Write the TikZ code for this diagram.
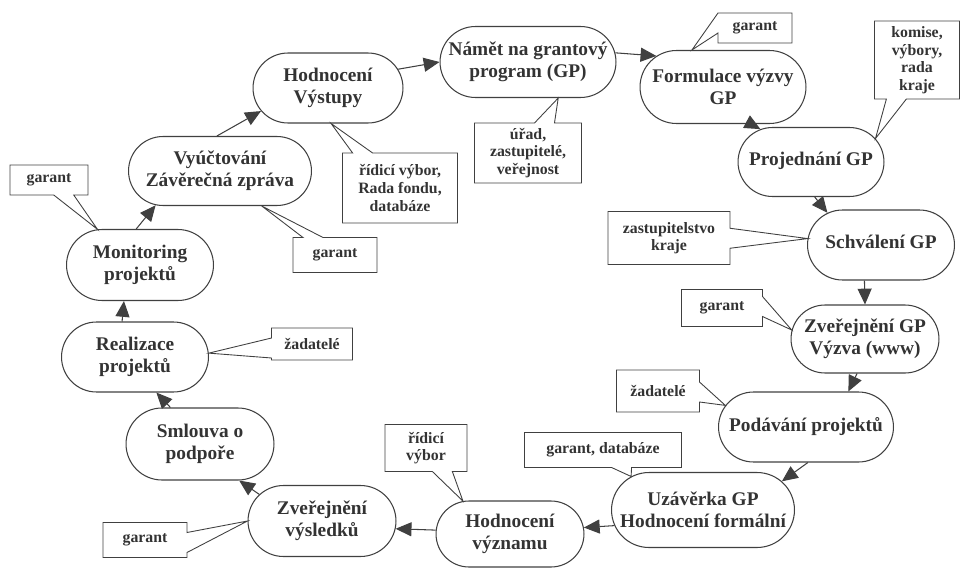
\documentclass[tikz,border=0pt]{standalone}
\usepackage{fontspec}
\setmainfont{Liberation Serif}
\usetikzlibrary{shapes.misc,shapes.callouts,arrows.meta}

\begin{document}
\begin{tikzpicture}[x=0.02cm,y=-0.02cm]
  \tikzset{stage/.style={draw=black!75, line width=0.6pt, rounded rectangle, align=center, inner sep=2pt,
      text=black!80, font=\bfseries\fontsize{11}{12.5}\selectfont},
    note/.style={draw=black!75, line width=0.5pt, rectangle callout, align=center, inner sep=2pt,
      callout pointer width=0.4cm, text=black!80, font=\bfseries\fontsize{9}{10}\selectfont},
    flow/.style={draw=black!75, line width=0.6pt, -{Triangle[length=9pt,width=8pt]}}}
  \useasboundingbox (0,0) rectangle (960,568);
  % the cycle
  \node[stage, minimum width=3.66cm, minimum height=1.42cm] (namet) at (528,62) {Námět na grantový\\program (GP)};
  \node[stage, minimum width=3.46cm, minimum height=1.46cm] (formul) at (723,87) {Formulace výzvy\\GP};
  \node[stage, minimum width=3.06cm, minimum height=1.38cm] (projed) at (811,162) {\raisebox{4pt}{Projednání GP}};
  \node[stage, minimum width=3.08cm, minimum height=1.4cm] (schval) at (881,245) {\raisebox{4pt}{Schválení GP}};
  \node[stage, minimum width=3.1cm, minimum height=1.36cm] (zverGP) at (865,339) {Zveřejnění GP\\Výzva (www)};
  \node[stage, minimum width=3.64cm, minimum height=1.4cm] (podav) at (806,427) {\raisebox{3pt}{Podávání projektů}};
  \node[stage, minimum width=3.8cm, minimum height=1.5cm] (uzav) at (703,510) {Uzávěrka GP\\Hodnocení formální};
  \node[stage, minimum width=3.1cm, minimum height=1.32cm] (hodvyz) at (510,534) {Hodnocení\\významu};
  \node[stage, minimum width=3.1cm, minimum height=1.42cm] (zvervys) at (322,521) {Zveřejnění\\výsledků};
  \node[stage, minimum width=3.1cm, minimum height=1.44cm] (smlouva) at (200,444) {Smlouva o\\podpoře};
  \node[stage, minimum width=3.08cm, minimum height=1.4cm] (realiz) at (135,357) {Realizace\\projektů};
  \node[stage, minimum width=3.08cm, minimum height=1.42cm] (monit) at (140,265) {Monitoring\\projektů};
  \node[stage, minimum width=3.8cm, minimum height=1.38cm] (vyuct) at (220,171) {Vyúčtování\\Závěrečná zpráva};
  \node[stage, minimum width=3.14cm, minimum height=1.4cm] (hodvys) at (328,88) {Hodnocení\\Výstupy};

  \draw[flow] (hodvys.15) -- (namet.180);
  \draw[flow] (namet.6) -- (formul.155);
  \draw[flow] (formul.-53) -- (projed.147);
  \draw[flow] (projed.-84) -- (schval.149);
  \draw[flow] (schval.-115) -- (zverGP.90);
  \draw[flow] (zverGP.-103) -- (podav.40);
  \draw[flow] (podav.-87) -- (uzav.20);
  \draw[flow] (uzav.190) -- (hodvyz.5);
  \draw[flow] (hodvyz.177) -- (zvervys.-6);
  \draw[flow] (zvervys.157) -- (smlouva.-43);
  \draw[flow] (smlouva.129) -- (realiz.-59);
  \draw[flow] (realiz.110) -- (monit.-114);
  \draw[flow] (monit.96) -- (vyuct.-152);
  \draw[flow] (vyuct.95) -- (hodvys.-161);

  % who takes part
  \node[note, minimum width=1.48cm, minimum height=0.6cm, callout absolute pointer={(formul.130)}] (gar1) at (755,28) {garant};
  \node[note, minimum width=1.7cm, minimum height=1.56cm, callout absolute pointer={(projed.20)}] (komise) at (917,60) {komise,\\výbory,\\rada\\kraje};
  \node[note, minimum width=2.14cm, minimum height=1.2cm, callout absolute pointer={(namet.-50)}] (urad) at (528,153) {úřad,\\zastupitelé,\\veřejnost};
  \node[note, minimum width=2.3cm, minimum height=1.4cm, callout absolute pointer={(hodvys.-85)}] (ridici1) at (400,188) {řídicí výbor,\\Rada fondu,\\databáze};
  \node[note, minimum width=1.68cm, minimum height=0.7cm, callout absolute pointer={(vyuct.-40)}] (gar2) at (335,255) {garant};
  \node[note, minimum width=1.56cm, minimum height=0.6cm, callout absolute pointer={(monit.140)}] (gar3) at (49,180) {garant};
  \node[note, minimum width=2.44cm, minimum height=1.06cm, callout absolute pointer={(schval.175)}] (zastup) at (669,238) {zastupitelstvo\\kraje};
  \node[note, minimum width=1.62cm, minimum height=0.74cm, callout absolute pointer={(zverGP.173)}] (gar4) at (722,308) {garant};
  \node[note, minimum width=1.62cm, minimum height=0.64cm, callout absolute pointer={(realiz.3)}] (zad1) at (312,344) {žadatelé};
  \node[note, minimum width=1.66cm, minimum height=0.84cm, callout absolute pointer={(podav.165)}] (zad2) at (658,391) {žadatelé};
  \node[note, minimum width=3.14cm, minimum height=0.7cm, callout absolute pointer={(uzav.155)}] (gardb) at (603,450) {garant, databáze};
  \node[note, minimum width=1.64cm, minimum height=0.94cm, callout absolute pointer={(hodvyz.145)}] (ridici2) at (426,448) {řídicí\\výbor};
  \node[note, minimum width=1.68cm, minimum height=0.7cm, callout absolute pointer={(zvervys.180)}] (gar5) at (145,540) {garant};
\end{tikzpicture}
\end{document}
